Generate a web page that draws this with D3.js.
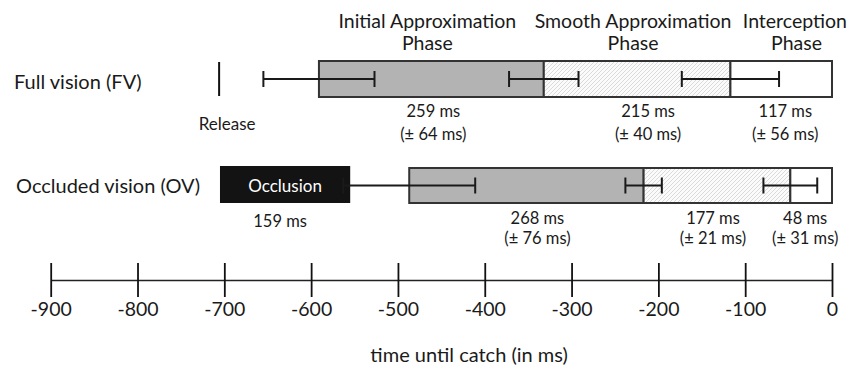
<!DOCTYPE html>
<html>
<head>
<meta charset="utf-8">
<script src="https://cdn.jsdelivr.net/npm/d3@7"></script>
<style>
  body { margin: 0; background: #fff; }
  text { font-family: Lato, "Open Sans", sans-serif; fill: #1a1a1a; }
</style>
</head>
<body>
<div class="chart"></div>
<script>
// phase data (ms before catch)
var phaseNames = [["Initial Approximation", "Phase"], ["Smooth Approximation", "Phase"], ["Interception", "Phase"]];
var fvStarts = [-591, -332, -117];
var fvEnds = [-332, -117, 0];
var fvDurations = [259, 215, 117];
var fvSD = [64, 40, 56];
var ovStarts = [-487, -217, -48];
var ovEnds = [-217, -48, 0];
var ovDurations = [268, 177, 48];
var ovSD = [76, 21, 31];
var releaseTime = -706;
var occlusionSpan = [-705, -555];
var occlusionDuration = 159;
var tickValues = [-900, -800, -700, -600, -500, -400, -300, -200, -100, 0];

var svgWidth = 850;
var svgHeight = 370;

var svg = d3.select(".chart")
  .append("svg")
  .attr("width", svgWidth)
  .attr("height", svgHeight);

var defs = svg.append("defs");
var hatch = defs.append("pattern")
  .attr("id", "hatch")
  .attr("patternUnits", "userSpaceOnUse")
  .attr("width", 4)
  .attr("height", 4);
hatch.append("rect").attr("width", 4).attr("height", 4).attr("fill", "#fbfbfb");
hatch.append("path")
  .attr("d", "M-1,1 l2,-2 M0,4 l4,-4 M3,5 l2,-2")
  .attr("stroke", "#d6d6d6")
  .attr("stroke-width", 0.9);

var x = d3.scaleLinear()
  .domain([-900, 0])
  .range([50.7, 832]);

var fills = ["#b3b3b3", "url(#hatch)", "#ffffff"];

// one row per condition (labelDx nudges the duration labels like the original)
var rows = [
  { starts: fvStarts, ends: fvEnds, durs: fvDurations, sd: fvSD, top: 61, h: 36, labelY: 117, gap: 23, labelDx: [2, 11, 4] },
  { starts: ovStarts, ends: ovEnds, durs: ovDurations, sd: ovSD, top: 168, h: 35, labelY: 224, gap: 19.5, labelDx: [11, -4, -6] }
];

// condition labels
svg.append("text").attr("x", 14).attr("y", 89).style("font-size", "20px").text("Full vision (FV)");
svg.append("text").attr("x", 16).attr("y", 193).style("font-size", "20px").text("Occluded vision (OV)");

// phase headers
phaseNames.forEach(function(name, i) {
  var cx = (x(fvStarts[i]) + x(fvEnds[i])) / 2 - 4;
  var t = svg.append("text")
    .style("font-size", "19.5px")
    .attr("text-anchor", i == 2 ? "end" : "middle")
    .attr("x", i == 2 ? 847 : cx);
  t.append("tspan").attr("y", 28).text(name[0]);
  t.append("tspan").attr("x", i == 2 ? 822 : cx).attr("y", 50).text(name[1]);
});

// release marker
svg.append("line")
  .attr("x1", x(releaseTime)).attr("x2", x(releaseTime))
  .attr("y1", 62).attr("y2", 96)
  .attr("stroke", "#111").attr("stroke-width", 2);
svg.append("text")
  .attr("x", x(releaseTime) + 8).attr("y", 130)
  .attr("text-anchor", "middle")
  .style("font-size", "17px")
  .text("Release");

// occlusion box
svg.append("rect")
  .attr("x", x(occlusionSpan[0]))
  .attr("y", 166)
  .attr("width", x(occlusionSpan[1]) - x(occlusionSpan[0]))
  .attr("height", 37)
  .attr("fill", "#131313");
svg.append("text")
  .attr("x", (x(occlusionSpan[0]) + x(occlusionSpan[1])) / 2)
  .attr("y", 192)
  .attr("text-anchor", "middle")
  .style("font-size", "17px")
  .style("fill", "#fff")
  .text("Occlusion");
svg.append("text")
  .attr("x", (x(occlusionSpan[0]) + x(occlusionSpan[1])) / 2 - 5)
  .attr("y", 227)
  .attr("text-anchor", "middle")
  .style("font-size", "16.5px")
  .text(occlusionDuration + " ms");

rows.forEach(function(row) {
  var g = svg.append("g");

  g.selectAll("rect")
    .data(row.starts)
    .enter()
    .append("rect")
    .attr("x", (d, i) => x(d))
    .attr("y", row.top)
    .attr("width", (d, i) => x(row.ends[i]) - x(d))
    .attr("height", row.h)
    .attr("fill", (d, i) => fills[i])
    .attr("stroke", "#333")
    .attr("stroke-width", 2);

  // error bars at the start of each phase
  var eb = g.selectAll(".eb")
    .data(row.starts)
    .enter()
    .append("g")
    .attr("class", "eb");
  var cy = row.top + row.h / 2;
  eb.append("line")
    .attr("x1", (d, i) => x(d - row.sd[i]))
    .attr("x2", (d, i) => x(d + row.sd[i]))
    .attr("y1", cy).attr("y2", cy);
  eb.append("line")
    .attr("x1", (d, i) => x(d - row.sd[i]))
    .attr("x2", (d, i) => x(d - row.sd[i]))
    .attr("y1", cy - 8).attr("y2", cy + 8);
  eb.append("line")
    .attr("x1", (d, i) => x(d + row.sd[i]))
    .attr("x2", (d, i) => x(d + row.sd[i]))
    .attr("y1", cy - 8).attr("y2", cy + 8);
  eb.selectAll("line")
    .attr("stroke", "#1a1a1a")
    .attr("stroke-width", 2);

  // duration labels
  var lab = g.selectAll(".lab")
    .data(row.starts)
    .enter()
    .append("text")
    .attr("class", "lab")
    .attr("text-anchor", "middle")
    .style("font-size", "16.5px");
  lab.append("tspan")
    .attr("x", (d, i) => (x(d) + x(row.ends[i])) / 2 + row.labelDx[i])
    .attr("y", row.labelY)
    .text((d, i) => row.durs[i] + " ms");
  lab.append("tspan")
    .attr("x", (d, i) => (x(d) + x(row.ends[i])) / 2 + row.labelDx[i])
    .attr("y", row.labelY + row.gap)
    .text((d, i) => "(\u00b1 " + row.sd[i] + " ms)");
});

// time axis
var axis = d3.axisBottom(x)
  .tickValues(tickValues)
  .tickFormat(d => String(d))
  .tickSize(17)
  .tickSizeOuter(0)
  .tickPadding(5);

var axisG = svg.append("g")
  .attr("transform", "translate(0, 280)")
  .call(axis);
axisG.select(".domain").attr("stroke", "#222").attr("stroke-width", 1.4);
axisG.selectAll(".tick line")
  .attr("y1", -17)
  .attr("y2", 17)
  .attr("stroke", "#111")
  .attr("stroke-width", 1.8);
axisG.selectAll(".tick text")
  .style("font-size", "19.5px")
  .style("font-family", "Lato, sans-serif")
  .attr("fill", "#1a1a1a");

svg.append("text")
  .attr("x", x(-418))
  .attr("y", 362)
  .attr("text-anchor", "middle")
  .style("font-size", "20px")
  .text("time until catch (in ms)");
</script>
</body>
</html>
